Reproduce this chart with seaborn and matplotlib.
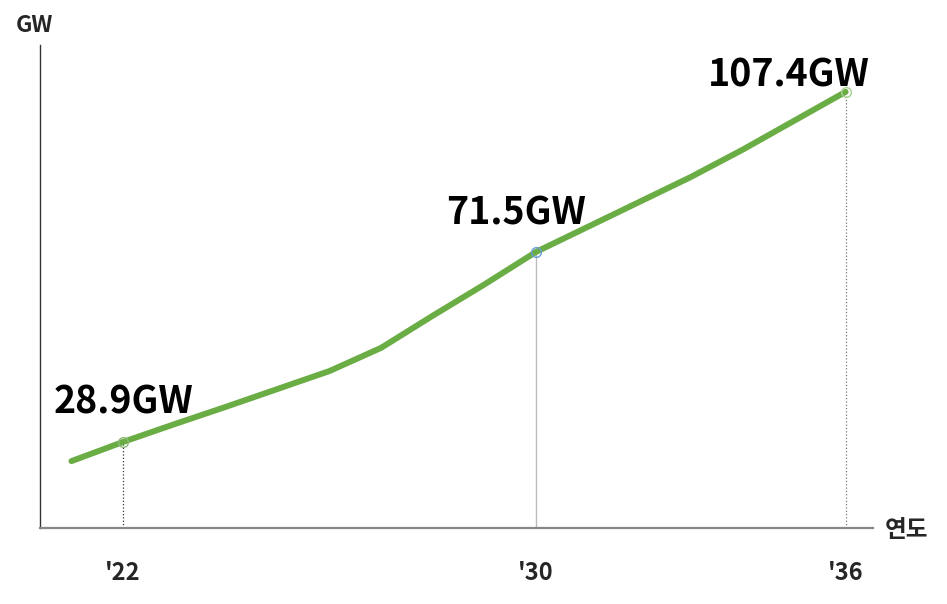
import matplotlib
matplotlib.use("Agg")
import matplotlib.pyplot as plt
import seaborn as sns
import pandas as pd

years = [2021, 2022, 2023, 2024, 2025, 2026, 2027, 2028, 2029, 2030, 2031, 2032, 2033, 2034, 2035, 2036]
capacity = [24.6, 28.9, 32.9, 36.8, 40.8, 44.8, 50.0, 57.2, 64.2, 71.5, 77.1, 82.7, 88.3, 94.4, 100.9, 107.4]
tick_years = [2022, 2030, 2036]
tick_labels = ["'22", "'30", "'36"]
point_labels = ["28.9GW", "71.5GW", "107.4GW"]

sns.set_style("white")
plt.rcParams['font.family'] = ['Noto Sans CJK KR', 'DejaVu Sans']

W, H = 947, 604
fig = plt.figure(figsize=(W / 100, H / 100), dpi=100)
ax = fig.add_axes([40 / W, (H - 528) / H, (873 - 40) / W, (528 - 45) / H])

df = pd.DataFrame({"year": years, "GW": capacity})
sns.lineplot(data=df, x="year", y="GW", ax=ax, color="#6AAD45", linewidth=4.3,
             solid_capstyle="round", solid_joinstyle="round", zorder=3)

ax.set_xlim(2020.39, 2036.53)
ax.set_ylim(9.6, 117.9)

vals = {y: v for y, v in zip(years, capacity)}
styles = [("#333333", ":", 0.9), ("#BBBBBB", "-", 1.0), ("#777777", ":", 0.9)]
mcols = ["#8DB87A", "#6A9ED8", "#A6D08E"]
offsets = [(0, 29), (-14, 28), (-41, 12)]
for yr, lab, (c, ls, lw), mc, off in zip(tick_years, point_labels, styles, mcols, offsets):
    v = vals[yr]
    ax.vlines(yr, 9.6, v, colors=c, linestyles=ls, linewidth=lw, zorder=1)
    ax.plot([yr], [v], marker="o", markersize=7, markerfacecolor="none",
            markeredgecolor=mc, markeredgewidth=1.0, zorder=4)
    ax.annotate(lab, (yr, v), xytext=off, textcoords="offset points",
                ha="center", va="center", fontsize=27, fontweight="bold", color="black")

ax.set_xticks(tick_years)
ax.set_xticklabels(tick_labels, fontsize=17, fontweight="bold")
ax.set_yticks([])
ax.tick_params(axis="x", length=0, pad=24)
ax.set_xlabel("")
ax.set_ylabel("")

for s in ["top", "right"]:
    ax.spines[s].set_visible(False)
ax.spines["left"].set_color("#333333")
ax.spines["left"].set_linewidth(1.0)
ax.spines["bottom"].set_color("#888888")
ax.spines["bottom"].set_linewidth(1.6)

fig.text(34 / W, 1 - 25 / H, "GW", ha="center", va="center", fontsize=16.5, fontweight="bold")
fig.text(906 / W, 1 - 530 / H, "연도", ha="center", va="center", fontsize=17, fontweight="bold")

fig.savefig("out.png", dpi=100, facecolor="white")
